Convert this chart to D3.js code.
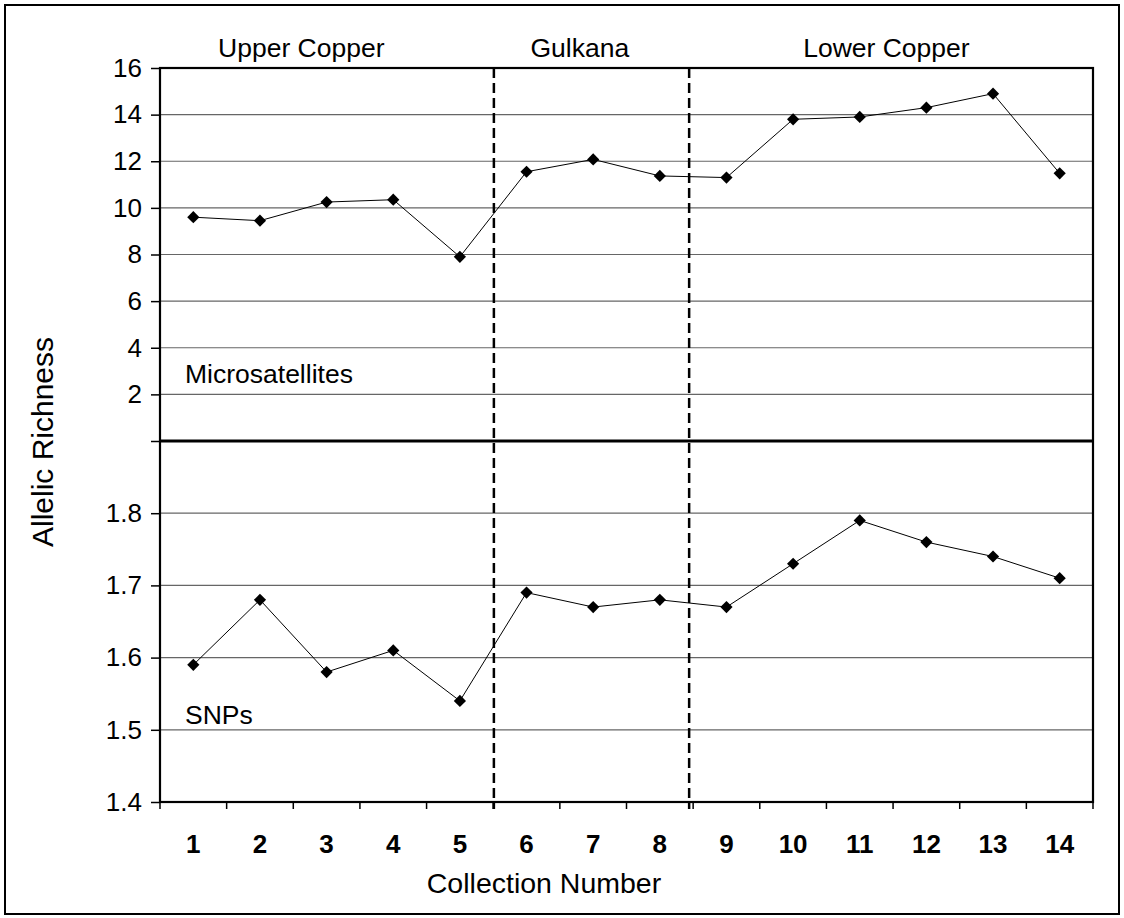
<!DOCTYPE html>
<html>
<head>
<meta charset="utf-8">
<script src="https://cdn.jsdelivr.net/npm/d3@7"></script>
<style>
  body { margin: 0; background: #fff; }
  text { font-family: "Liberation Sans", Arial, sans-serif; fill: #000; }
</style>
</head>
<body>
<svg id="chart"></svg>
<script>
var collections = [1, 2, 3, 4, 5, 6, 7, 8, 9, 10, 11, 12, 13, 14];
var microsat = [9.6, 9.45, 10.25, 10.35, 7.9, 11.55, 12.08, 11.37, 11.3, 13.8, 13.9, 14.3, 14.9, 11.48];
var snps = [1.59, 1.68, 1.58, 1.61, 1.54, 1.69, 1.67, 1.68, 1.67, 1.73, 1.79, 1.76, 1.74, 1.71];
var microTicks = [2, 4, 6, 8, 10, 12, 14, 16];
var snpTicks = [1.4, 1.5, 1.6, 1.7, 1.8];
var regions = ["Upper Copper", "Gulkana", "Lower Copper"];
// label centres and divider positions, in collection units
var regionCentres = [2.62, 6.8, 11.4];
var dividers = [5.51, 8.44];

var W = 1124, H = 918;
var pLeft = 160, pRight = 1093, pTop = 68, pMid = 441, pBottom = 802;
var font = "'Liberation Sans', Arial, sans-serif";

var svg = d3.select("#chart").attr("width", W).attr("height", H);

// outer frame
svg.append("rect")
    .attr("x", 5).attr("y", 5)
    .attr("width", W - 10).attr("height", H - 9)
    .attr("fill", "none").attr("stroke", "#000").attr("stroke-width", 2);

var x = d3.scaleBand().domain(collections).range([pLeft, pRight]);
var xLin = d3.scaleLinear().domain([0.5, 14.5]).range([pLeft, pRight]);
var yTop = d3.scaleLinear().domain([0, 16]).range([pMid, pTop]);
var yBot = d3.scaleLinear().domain([1.4, 1.9]).range([pBottom, pMid]);

function cx(d) { return x(d) + x.bandwidth() / 2; }

// gridlines
svg.append("g").selectAll("line")
    .data(microTicks.slice(0, -1))
    .enter().append("line")
    .attr("x1", pLeft).attr("x2", pRight)
    .attr("y1", function(d) { return yTop(d); })
    .attr("y2", function(d) { return yTop(d); })
    .attr("stroke", "#666").attr("stroke-width", 1.2);

svg.append("g").selectAll("line")
    .data(snpTicks.slice(1))
    .enter().append("line")
    .attr("x1", pLeft).attr("x2", pRight)
    .attr("y1", function(d) { return yBot(d); })
    .attr("y2", function(d) { return yBot(d); })
    .attr("stroke", "#666").attr("stroke-width", 1.2);

// y axes
var axTop = svg.append("g")
    .attr("transform", "translate(" + pLeft + ",0)")
    .call(d3.axisLeft(yTop).tickValues([0].concat(microTicks)).tickSize(9).tickPadding(9)
        .tickFormat(function(d) { return d === 0 ? "" : d; }));
var axBot = svg.append("g")
    .attr("transform", "translate(" + pLeft + ",0)")
    .call(d3.axisLeft(yBot).tickValues(snpTicks).tickSize(9).tickPadding(9)
        .tickFormat(d3.format(".1f")));
[axTop, axBot].forEach(function(a) {
    a.select(".domain").remove();
    a.selectAll(".tick line").attr("stroke", "#000").attr("stroke-width", 1.5);
    a.selectAll("text").style("font-size", "26px").style("font-family", font);
});

// x axis
var axX = svg.append("g")
    .attr("transform", "translate(0," + pBottom + ")")
    .call(d3.axisBottom(x).tickSize(0).tickPadding(33));
axX.select(".domain").remove();
axX.selectAll("text").style("font-size", "26px").style("font-weight", "bold")
    .style("font-family", font);

svg.append("g").selectAll("line")
    .data(d3.range(collections.length + 1))
    .enter().append("line")
    .attr("x1", function(i) { return pLeft + i * x.step(); })
    .attr("x2", function(i) { return pLeft + i * x.step(); })
    .attr("y1", pBottom).attr("y2", pBottom + 7)
    .attr("stroke", "#000").attr("stroke-width", 1.5);

// plot frame and panel divider
svg.append("rect")
    .attr("x", pLeft).attr("y", pTop)
    .attr("width", pRight - pLeft).attr("height", pBottom - pTop)
    .attr("fill", "none").attr("stroke", "#000").attr("stroke-width", 2.2);
svg.append("line")
    .attr("x1", pLeft).attr("x2", pRight)
    .attr("y1", pMid).attr("y2", pMid)
    .attr("stroke", "#000").attr("stroke-width", 3);

// region dividers
svg.append("g").selectAll("line")
    .data(dividers)
    .enter().append("line")
    .attr("x1", function(d) { return xLin(d); })
    .attr("x2", function(d) { return xLin(d); })
    .attr("y1", pTop).attr("y2", pBottom + 7)
    .attr("stroke", "#000").attr("stroke-width", 2.5)
    .attr("stroke-dasharray", "10,5");

svg.append("g").selectAll("text")
    .data(regions)
    .enter().append("text")
    .attr("x", function(d, i) { return xLin(regionCentres[i]); })
    .attr("y", 57)
    .attr("text-anchor", "middle")
    .style("font-size", "26.5px")
    .text(function(d) { return d; });

// series
function drawSeries(values, y) {
    var line = d3.line()
        .x(function(d, i) { return cx(collections[i]); })
        .y(function(d) { return y(d); });
    svg.append("path")
        .datum(values)
        .attr("d", line)
        .attr("fill", "none").attr("stroke", "#000").attr("stroke-width", 1);
    svg.append("g").selectAll("path")
        .data(values)
        .enter().append("path")
        .attr("d", d3.symbol().type(d3.symbolDiamond2).size(95))
        .attr("transform", function(d, i) {
            return "translate(" + cx(collections[i]) + "," + y(d) + ")";
        })
        .attr("fill", "#000");
}
drawSeries(microsat, yTop);
drawSeries(snps, yBot);

// labels
svg.append("text").attr("x", 185).attr("y", 383)
    .style("font-size", "26.5px").text("Microsatellites");
svg.append("text").attr("x", 185).attr("y", 724)
    .style("font-size", "26.5px").text("SNPs");
svg.append("text")
    .attr("x", 544).attr("y", 893)
    .attr("text-anchor", "middle")
    .style("font-size", "28.5px").text("Collection Number");
svg.append("text")
    .attr("transform", "translate(53,442) rotate(-90)")
    .attr("text-anchor", "middle")
    .style("font-size", "30px").text("Allelic Richness");
</script>
</body>
</html>
